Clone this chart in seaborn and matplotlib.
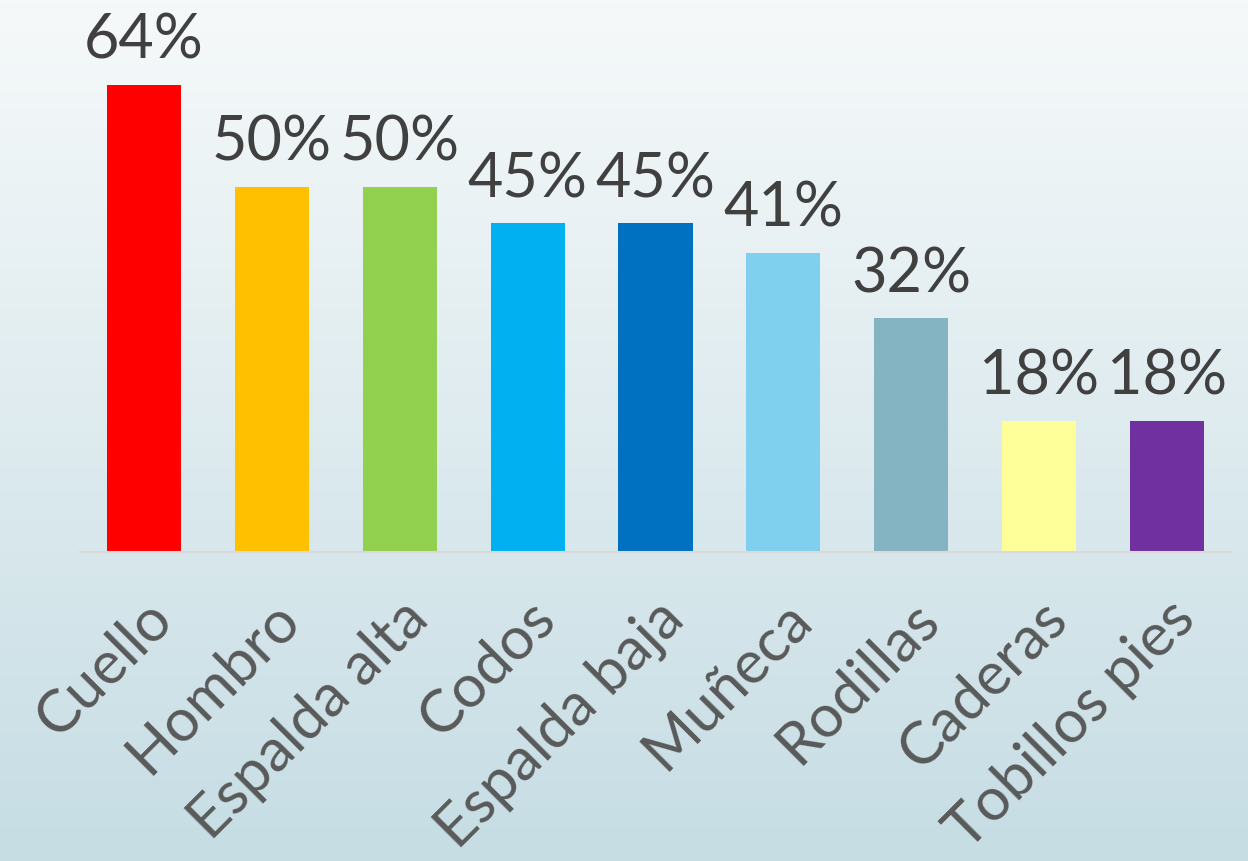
import numpy as np
import matplotlib
matplotlib.use("Agg")
import matplotlib.pyplot as plt
import seaborn as sns
from matplotlib.colors import LinearSegmentedColormap

categories = ["Cuello", "Hombro", "Espalda alta", "Codos", "Espalda baja",
              "Muñeca", "Rodillas", "Caderas", "Tobillos pies"]
values = [64, 50, 50, 45, 45, 41, 32, 18, 18]
colors = ["#FF0000", "#FFC000", "#92D050", "#00B0F0", "#0070C0",
          "#7FCFEF", "#84B4C2", "#FFFF99", "#7030A0"]

sns.set_theme(style="white")
plt.rcParams['font.family'] = ['Lato', 'DejaVu Sans']

fig = plt.figure(figsize=(12.48, 8.61), dpi=100)

# gradient background
bg = fig.add_axes([0, 0, 1, 1], zorder=0)
grad = np.linspace(0, 1, 256).reshape(-1, 1)
cmap = LinearSegmentedColormap.from_list("bg", ["#F6F9FA", "#C6DDE4"])
bg.imshow(grad, aspect="auto", cmap=cmap, extent=[0, 1, 0, 1], origin="upper")
bg.axis("off")

ax = fig.add_axes([80/1248, 1 - 552/861, (1231-80)/1248, 552/861], zorder=1)
ax.patch.set_alpha(0)

sns.barplot(x=categories, y=values, hue=categories, palette=colors,
            width=0.58, legend=False, ax=ax, saturation=1, linewidth=0,
            edgecolor="none")

ax.set_ylim(0, 552/7.3)
ax.set_xlim(-0.5, 8.5)
for i, v in enumerate(values):
    ax.text(i, v + 2.1, f"{v}%", ha="center", va="bottom",
            fontsize=44, color="#404040")

ax.set_yticks([])
ax.set_ylabel("")
ax.set_xlabel("")
ax.tick_params(axis="x", length=0, pad=28)
ax.set_xticks(range(len(categories)))
ax.set_xticklabels(categories, rotation=45, ha="right", rotation_mode="anchor",
                   fontsize=43, color="#595959")
for s in ["top", "right", "left"]:
    ax.spines[s].set_visible(False)
ax.spines["bottom"].set_color("#D9D9D9")
ax.spines["bottom"].set_linewidth(1.5)

fig.savefig("out.png", dpi=100)
